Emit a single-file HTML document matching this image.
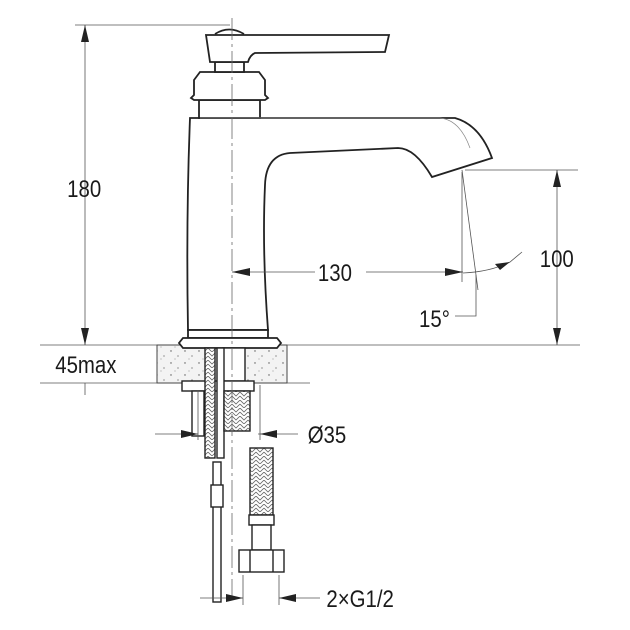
<!DOCTYPE html>
<html><head><meta charset="utf-8"><style>
html,body{margin:0;padding:0;background:#fff}
svg{display:block}
text{font-family:"Liberation Sans",sans-serif;font-size:24px;fill:#1a1a1a}
</style></head><body>
<svg width="630" height="630" viewBox="0 0 630 630" xmlns="http://www.w3.org/2000/svg">
<defs>
<pattern id="sp" width="14" height="12" patternUnits="userSpaceOnUse">
<rect width="14" height="12" fill="#f3f3f3"/>
<circle cx="3" cy="3" r="0.7" fill="#555"/><circle cx="10" cy="8" r="0.6" fill="#555"/><circle cx="7" cy="11" r="0.5" fill="#777"/>
</pattern>
<pattern id="br" width="8" height="8" patternUnits="userSpaceOnUse">
<rect width="8" height="8" fill="#fff"/>
<path d="M0 0 L4 4 L8 0 M0 4 L4 8 L8 4" stroke="#666" stroke-width="0.8" fill="none"/>
</pattern>
</defs>
<g stroke="#222" fill="none" stroke-width="1">
<!-- countertop -->
<rect x="157" y="345" width="130" height="38" fill="url(#sp)" stroke="#444"/>
<!-- faucet -->
<g stroke-width="1.8" fill="#fff">
<path d="M190 118 Q186 220 188 330 L268 330 Q262 250 265 185 Q266 155 290 153 L398 148 Q415 148 432 177 L492 158 Q480 125 455 118 Z"/>
<rect x="188" y="330" width="80" height="8"/>
<path d="M183 338 L277 338 L281 343 L277 348 L183 348 L179 343 Z"/>
<rect x="199" y="100" width="61" height="18"/>
<path d="M200 72 L259 72 L265 80 L265 95 L268 98 L265 100 L194 100 L191 98 L194 95 L194 80 Z"/>
<rect x="215" y="62" width="29" height="10"/>
<path d="M206 35 L389 35 L385 52 L255 53 Q250 55 248 62 L210 62 Z"/>
<path d="M215 34 Q229 25 244 34" />
</g>
<path d="M200 118 L440 118 Q460 120 470 148" stroke="#888" stroke-width="0.7"/>
<!-- underside parts -->
<g stroke-width="1.4" fill="#fff">
<rect x="223" y="348" width="22" height="33"/>
<rect x="182" y="381" width="72" height="10"/>
<rect x="205" y="348" width="10" height="110" fill="url(#br)"/>
<rect x="217" y="348" width="7" height="110"/>
<rect x="192" y="391" width="12" height="45"/>
<rect x="224" y="391" width="26" height="40" fill="url(#br)"/>
<rect x="213" y="462" width="8" height="140"/>
<rect x="211" y="485" width="12" height="22"/>
<rect x="250" y="448" width="23" height="67" fill="url(#br)"/>
<rect x="249" y="515" width="25" height="10"/>
<rect x="252" y="525" width="19" height="25"/>
<rect x="239" y="550" width="45" height="22"/>
<line x1="250" y1="550" x2="250" y2="572"/><line x1="273" y1="550" x2="273" y2="572"/>
</g>
<!-- dimension/thin lines -->
<g stroke="#555" stroke-width="0.8">
<line x1="75" y1="25" x2="230" y2="25"/>
<line x1="40" y1="345" x2="157" y2="345"/><line x1="287" y1="345" x2="580" y2="345"/>
<line x1="40" y1="383" x2="157" y2="383"/><line x1="287" y1="383" x2="310" y2="383"/>
<line x1="85" y1="25" x2="85" y2="345"/>
<line x1="85" y1="383" x2="85" y2="395"/>
<line x1="465" y1="170" x2="578" y2="170"/>
<line x1="557" y1="170" x2="557" y2="345"/>
<line x1="232" y1="272" x2="315" y2="272"/><line x1="366" y1="272" x2="463" y2="272"/>
<line x1="462" y1="172" x2="462" y2="282"/>
<line x1="462" y1="170" x2="478" y2="290"/>
<path d="M463 273 Q490 272 510 262 L522 252"/>
<polyline points="476,275 476,316 455,316"/>
<line x1="155" y1="434" x2="198" y2="434"/><line x1="258" y1="434" x2="298" y2="434"/>
<line x1="198" y1="390" x2="198" y2="440"/><line x1="260" y1="385" x2="260" y2="440"/>
<line x1="200" y1="598" x2="243" y2="598"/><line x1="279" y1="598" x2="320" y2="598"/>
<line x1="243" y1="575" x2="243" y2="605"/><line x1="279" y1="575" x2="279" y2="605"/>
</g>
<!-- centerline -->
<line x1="232" y1="18" x2="232" y2="600" stroke="#666" stroke-width="0.8" stroke-dasharray="22,4,3,4"/>
<!-- arrowheads -->
<g fill="#222" stroke="none">
<polygon points="85,25 81,42 89,42"/><polygon points="85,345 81,328 89,328"/>
<polygon points="557,170 553,187 561,187"/><polygon points="557,345 553,328 561,328"/>
<polygon points="232,272 250,268 250,276"/><polygon points="463,272 445,268 445,276"/>
<polygon points="510,262 495,264 500,270"/>
<polygon points="198,434 181,430 181,438"/><polygon points="260,434 277,430 277,438"/>
<polygon points="243,598 226,594 226,602"/><polygon points="279,598 296,594 296,602"/>
</g>
</g>
<g transform="scale(0.85,1)">
<text x="79" y="197">180</text>
<text x="635" y="267">100</text>
<text x="374" y="281">130</text>
<text x="493" y="327">15°</text>
<text x="65" y="373">45max</text>
<text x="362" y="443">Ø35</text>
<text x="384" y="607">2×G1/2</text>
</g>
</svg>
</body></html>
